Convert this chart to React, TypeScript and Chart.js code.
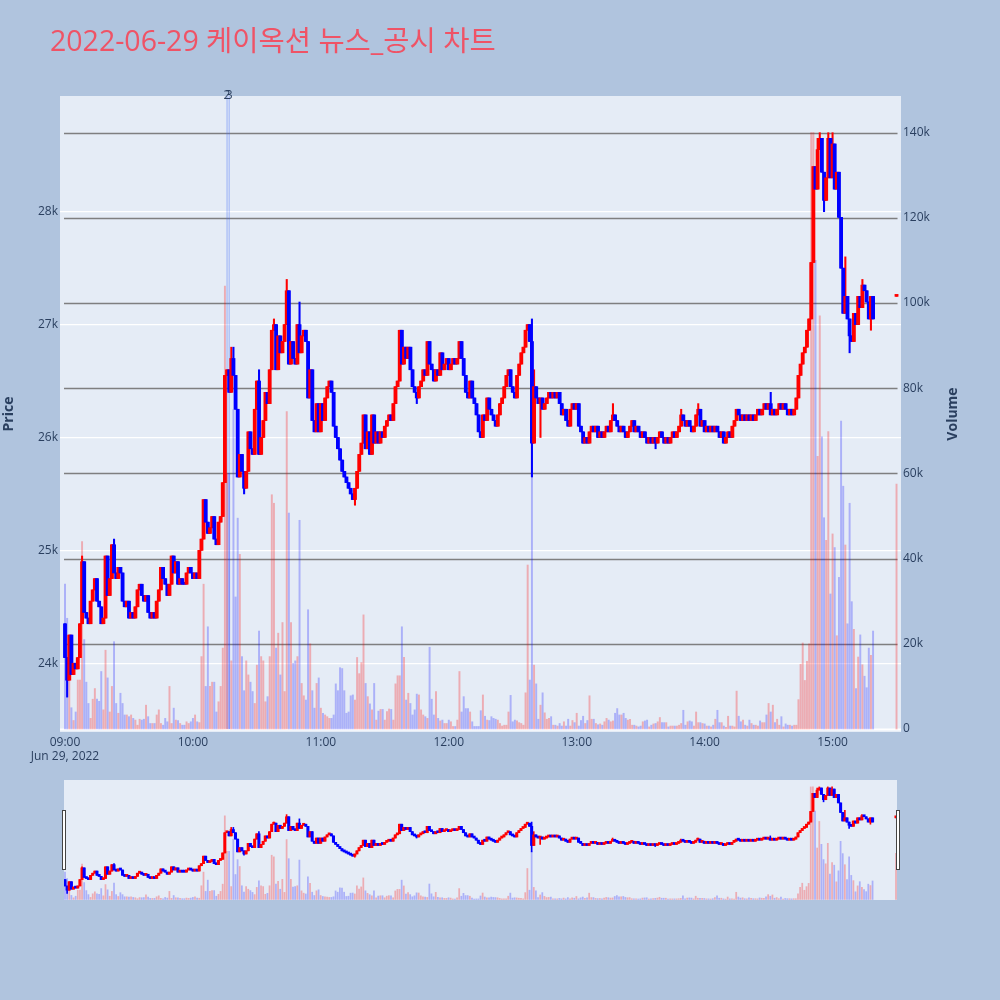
import React, { useEffect, useRef } from 'react';
import Chart from 'chart.js/auto';

// ---------------- data ----------------
const TITLE = '2022-06-29 케이옥션 뉴스_공시 차트';
const DATE_LABEL = 'Jun 29, 2022';
const hourTickMinutes = [0, 60, 120, 180, 240, 300, 360];
const hourTickLabels = ['09:00', '10:00', '11:00', '12:00', '13:00', '14:00', '15:00'];
const priceTicks = [24000, 25000, 26000, 27000, 28000];
const volumeTicks = [0, 20000, 40000, 60000, 80000, 100000, 120000, 140000];

// one-minute candles from 09:00 (minute 0) to 15:19 (minute 379)
const firstOpen = 24350;
const closes = [
  24050, 23850, 24250, 23900, 24000, 23950, 24050, 24350, 24900, 24450,
  24400, 24350, 24550, 24650, 24750, 24550, 24500, 24350, 24400, 24950,
  24600, 24750, 25050, 24800, 24750, 24850, 24800, 24550, 24500, 24550,
  24400, 24450, 24400, 24500, 24650, 24700, 24600, 24550, 24600, 24450,
  24400, 24450, 24400, 24550, 24650, 24850, 24750, 24700, 24600, 24700,
  24950, 24800, 24900, 24700, 24750, 24700, 24700, 24800, 24850, 24800,
  24750, 24800, 24750, 25000, 25100, 25450, 25250, 25150, 25200, 25300,
  25100, 25050, 25250, 25300, 25600, 26550, 26600, 26400, 26700, 26550,
  26250, 25650, 25850, 25700, 25550, 25700, 26050, 25900, 25850, 26250,
  26500, 25850, 26000, 26150, 26400, 26300, 26600, 26950, 27000, 26600,
  26900, 26750, 26850, 27000, 27300, 26650, 26850, 26700, 26650, 27000,
  26750, 26900, 26950, 26850, 26350, 26600, 26150, 26050, 26300, 26050,
  26300, 26150, 26350, 26450, 26500, 26400, 26100, 26000, 25900, 25800,
  25700, 25650, 25600, 25550, 25500, 25450, 25550, 25700, 25850, 25950,
  26200, 25900, 26050, 25850, 26200, 25950, 26050, 25950, 26050, 26000,
  26100, 26150, 26200, 26150, 26300, 26450, 26500, 26950, 26650, 26800,
  26700, 26800, 26600, 26450, 26400, 26350, 26450, 26500, 26600, 26550,
  26850, 26650, 26600, 26500, 26600, 26550, 26750, 26600, 26650, 26700,
  26600, 26650, 26700, 26650, 26700, 26850, 26700, 26550, 26400, 26350,
  26500, 26350, 26300, 26200, 26050, 26000, 26200, 26150, 26350, 26250,
  26200, 26150, 26100, 26200, 26300, 26350, 26450, 26550, 26600, 26450,
  26400, 26350, 26550, 26650, 26750, 26800, 26950, 27000, 26850, 25950,
  26450, 26350, 26300, 26350, 26250, 26300, 26350, 26400, 26350, 26400,
  26350, 26400, 26300, 26200, 26250, 26150, 26100, 26250, 26300, 26250,
  26300, 26100, 26050, 25950, 26000, 25950, 26050, 26100, 26050, 26100,
  26000, 26050, 26000, 26050, 26100, 26050, 26150, 26200, 26150, 26100,
  26050, 26100, 26050, 26000, 26050, 26100, 26150, 26050, 26100, 26050,
  26000, 26050, 26000, 25950, 26000, 25950, 26000, 25950, 26000, 26050,
  26000, 25950, 26000, 25950, 26000, 26050, 26000, 26050, 26100, 26200,
  26150, 26100, 26150, 26100, 26050, 26100, 26200, 26250, 26100, 26150,
  26050, 26100, 26050, 26100, 26050, 26100, 26050, 26000, 26050, 25950,
  26000, 26050, 26000, 26100, 26150, 26250, 26200, 26150, 26200, 26150,
  26200, 26150, 26200, 26150, 26200, 26250, 26200, 26250, 26300, 26250,
  26300, 26200, 26250, 26200, 26250, 26300, 26250, 26300, 26250, 26200,
  26250, 26200, 26250, 26350, 26550, 26650, 26750, 26800, 26950, 27050,
  27550, 28400, 28200, 28550, 28650, 28350, 28100, 28300, 28650, 28300,
  28600, 28200, 28350, 27950, 27500, 27100, 27250, 27050, 26900, 26850,
  27100, 27000, 27250, 27150, 27350, 27300, 27200, 27050, 27250, 27050,
];

// traded volume per minute, in thousands of shares
const volumesK = [
  34, 26, 22, 5, 2, 4, 11.5, 11.5, 44, 21,
  11, 6, 2.5, 7, 9.5, 7, 6.5, 13.5, 4.5, 18.5,
  12, 4, 10, 20.5, 6, 3.7, 8.4, 6, 3.3, 3.3,
  2.9, 3.3, 2.5, 2.1, 0.9, 2.3, 2.1, 2.3, 5.6, 2.9,
  1.3, 1.3, 1.3, 3.3, 4.5, 1.3, 0.9, 2.5, 1.7, 10,
  1.3, 4.9, 2.1, 2, 1.3, 0.9, 0.9, 1.7, 1.3, 1.7,
  2.5, 3.3, 1.7, 1.5, 17, 34, 10, 24, 10, 11,
  11, 4, 6.4, 10, 19, 104, 60, 60, 16, 75,
  31, 49.5, 41, 17, 9, 16, 12.7, 11, 8.8, 6,
  15, 23, 17, 16, 6.4, 7.6, 17, 55, 53, 19,
  22.5, 12.7, 25, 8.8, 74.5, 50.7, 25, 15.4, 16, 17,
  49, 10.7, 7.8, 6.8, 28, 20, 9, 4.9, 10.7, 12,
  4.9, 3.7, 3.3, 2.9, 2.5, 2.5, 3.3, 10.6, 9, 14.4,
  14.2, 9, 3.7, 4, 7.8, 8, 6.8, 16.8, 13, 15.6,
  26.8, 10.7, 7.6, 5.9, 4.5, 10.7, 2.1, 4.2, 4.6, 4.6,
  2.1, 4.1, 4.7, 4.6, 2.1, 10.6, 12.5, 12.5, 24, 16.8,
  6.8, 8.4, 6, 3.3, 4.5, 8.2, 8, 4.5, 3.3, 2.9,
  2.5, 19.2, 7, 3.3, 8.8, 2.5, 1.9, 2.1, 1.3, 1.3,
  2.1, 1.7, 0.6, 0.6, 2.1, 13.5, 4, 7.6, 4.8, 4.8,
  4, 1.7, 0.6, 0.6, 0.6, 4.3, 8, 3, 2.1, 2,
  2.9, 2.5, 2.3, 2.1, 1.3, 0.7, 0.9, 0.9, 4, 7.9,
  1.7, 2.1, 1.9, 1.5, 1.3, 0.9, 8.5, 38.5, 11.5, 60,
  15, 10.6, 2.3, 5.6, 8.5, 3.8, 2.3, 2.5, 2.9, 0.9,
  0.9, 0.7, 1.3, 0.7, 1.7, 0.7, 2.3, 0.7, 2, 1.5,
  3.7, 0.7, 2, 3, 1.3, 2, 7.8, 2.3, 2.3, 1.3,
  1, 1.2, 0.9, 1.7, 2.5, 2.1, 1.7, 1.9, 3.7, 4.8,
  3.3, 3.3, 3.7, 2.5, 2.1, 2.3, 0.9, 0.9, 0.7, 0.5,
  0.7, 1.7, 1.9, 2.1, 0.5, 0.9, 1.2, 1.3, 1.7, 2.7,
  1.5, 1.5, 1.5, 0.5, 0.7, 0.7, 0.7, 0.7, 0.9, 1.3,
  4.4, 0.9, 1.7, 1.9, 1.7, 0.7, 4, 1.5, 1.5, 1.3,
  1.2, 0.7, 0.7, 0.5, 0.9, 2.3, 4.4, 1.5, 1.5, 0.7,
  0.4, 3, 0.7, 0.7, 0.5, 8.9, 3, 1.7, 2.1, 0.9,
  0.7, 2.1, 1.3, 0.9, 0.9, 0.7, 1.9, 1.5, 1.5, 3.3,
  6, 4, 5.6, 1.5, 2.3, 0.9, 2.9, 0.5, 1.2, 0.9,
  0.9, 0.7, 0.9, 0.9, 6.9, 15.2, 20.2, 11.4, 15.9, 20,
  140, 140, 110, 64, 97, 68.6, 49.6, 44.3, 69.8, 31.7,
  45.8, 42.6, 21.9, 35.6, 72.3, 57, 43.2, 24.7, 53, 29.9,
  23.4, 9.5, 16.9, 22.1, 15.1, 12.4, 9.7, 19, 17.3, 23,
];

// [minute, high, low] for candles whose wicks reach beyond their bodies
const wickExtremes: [number, number | null, number | null][] = [
  [1, null, 23700], [8, 24950, null], [23, 25100, null], [78, 26800, null],
  [79, 26800, null], [84, null, 25500], [91, 26600, null], [98, 27050, null],
  [104, 27400, null], [110, 27200, null], [136, null, 25400], [165, null, 26300],
  [219, 27050, 25650], [220, 26600, null], [223, null, 26000], [257, 26300, null],
  [277, null, 25900], [289, 26250, null], [297, 26300, null], [331, 26400, null],
  [353, 28650, null], [354, 28700, null], [356, null, 28000], [358, 28700, null],
  [360, 28700, null], [366, 27600, null], [368, null, 26750], [374, 27400, null],
  [378, null, 26950],
];

// 15:30 closing auction
const closingAuction = { minute: 390, open: 27250, high: 27250, low: 27250, close: 27250, volumeK: 57.5 };

// news / disclosure markers
const newsMinutes = [76, 77];
const newsLabels = ['2', '3'];

// ---------------- styling ----------------
const UP = '#ff0000';
const DOWN = '#0000ff';
const UP_VOL = 'rgba(255,0,0,0.27)';
const DOWN_VOL = 'rgba(0,0,255,0.25)';
const PLOT_BG = '#E5ECF6';
const PAPER_BG = '#B0C4DE';
const TEXT = '#2a3f5f';
const FONT = '"Open Sans", "Noto Sans CJK KR", sans-serif';

type Candle = { m: number; o: number; h: number; l: number; c: number; v: number; up: boolean };

function buildCandles(): Candle[] {
  const list: Candle[] = closes.map((c, i) => {
    const o = i === 0 ? firstOpen : closes[i - 1];
    return { m: i, o, h: Math.max(o, c), l: Math.min(o, c), c, v: volumesK[i] * 1000, up: false };
  });
  for (const [m, h, l] of wickExtremes) {
    if (h != null) list[m].h = Math.max(list[m].h, h);
    if (l != null) list[m].l = Math.min(list[m].l, l);
  }
  const a = closingAuction;
  list.push({ m: a.minute, o: a.open, h: a.high, l: a.low, c: a.close, v: a.volumeK * 1000, up: false });
  list.forEach((k, i) => {
    if (k.c > k.o) k.up = true;
    else if (k.c < k.o) k.up = false;
    else k.up = i > 0 ? k.c > list[i - 1].c : false;
  });
  return list;
}

function makeDatasets(cs: Candle[], bodyW: number, wickW: number, volW: number): any[] {
  return [
    {
      type: 'bar', data: cs.map(k => ({ x: k.m, y: [k.o, k.c] })),
      backgroundColor: cs.map(k => (k.up ? UP : DOWN)), borderWidth: 0,
      barThickness: bodyW, grouped: false, yAxisID: 'y', order: 1, minBarLength: 2,
    },
    {
      type: 'bar', data: cs.map(k => ({ x: k.m, y: [k.l, k.h] })),
      backgroundColor: cs.map(k => (k.up ? UP : DOWN)), borderWidth: 0,
      barThickness: wickW, grouped: false, yAxisID: 'y', order: 2,
    },
    {
      type: 'bar', data: cs.map(k => ({ x: k.m, y: k.v })),
      backgroundColor: cs.map(k => (k.up ? UP_VOL : DOWN_VOL)), borderWidth: 0,
      barThickness: volW, grouped: false, yAxisID: 'y2', order: 3,
    },
  ];
}

const PRICE_MIN = 23391;
const PRICE_MAX = 29025;
const VOL_MIN = -700;
const VOL_MAX = 148600;
const SLIDER_X_MIN = -0.47;
const SLIDER_X_MAX = 390.47;

export default function App() {
  const mainRef = useRef<HTMLCanvasElement>(null);
  const sliderRef = useRef<HTMLCanvasElement>(null);

  useEffect(() => {
    document.body.style.margin = '0';
    document.body.style.background = PAPER_BG;
    const cs = buildCandles();

    const decor = {
      id: 'decor',
      beforeDraw(chart: any) {
        const { ctx, chartArea: a } = chart;
        ctx.save();
        ctx.fillStyle = PLOT_BG;
        ctx.fillRect(a.left, a.top, a.right - a.left, a.bottom - a.top);
        ctx.restore();
      },
      beforeDatasetsDraw(chart: any) {
        const { ctx, chartArea: a, scales } = chart;
        const x0 = scales.x.getPixelForValue(SLIDER_X_MIN);
        const x1 = scales.x.getPixelForValue(SLIDER_X_MAX);
        ctx.save();
        for (const v of volumeTicks) {
          const y = Math.round(scales.y2.getPixelForValue(v)) + 0.5;
          ctx.beginPath();
          ctx.strokeStyle = v === 0 ? '#ffffff' : 'rgba(115,115,115,0.9)';
          ctx.lineWidth = v === 0 ? 2 : 1.4;
          ctx.moveTo(v === 0 ? a.left : x0, y);
          ctx.lineTo(v === 0 ? a.right : x1, y);
          ctx.stroke();
        }
        for (const m of newsMinutes) {
          const x = scales.x.getPixelForValue(m);
          ctx.beginPath();
          ctx.strokeStyle = 'rgba(70,110,250,0.4)';
          ctx.lineWidth = 1.2;
          ctx.moveTo(x, a.top);
          ctx.lineTo(x, scales.y2.getPixelForValue(0));
          ctx.stroke();
        }
        ctx.restore();
      },
      afterDraw(chart: any) {
        const { ctx, chartArea: a, scales } = chart;
        ctx.save();
        // title
        ctx.fillStyle = 'rgb(239,83,102)';
        ctx.font = `28.5px ${FONT}`;
        ctx.textBaseline = 'alphabetic';
        ctx.textAlign = 'left';
        ctx.fillText(TITLE, 50, 50.5);
        // news labels
        ctx.fillStyle = TEXT;
        ctx.font = `12px ${FONT}`;
        ctx.textAlign = 'center';
        ctx.textBaseline = 'middle';
        newsMinutes.forEach((m, i) => {
          ctx.fillText(newsLabels[i], scales.x.getPixelForValue(m), a.top);
        });
        // axis titles
        ctx.font = `bold 14px ${FONT}`;
        ctx.translate(9.5, (a.top + a.bottom) / 2);
        ctx.rotate(-Math.PI / 2);
        ctx.fillText('Price', 0, 0);
        ctx.restore();
        ctx.save();
        ctx.fillStyle = TEXT;
        ctx.font = `bold 14px ${FONT}`;
        ctx.textAlign = 'center';
        ctx.textBaseline = 'middle';
        ctx.translate(953, (a.top + a.bottom) / 2);
        ctx.rotate(-Math.PI / 2);
        ctx.fillText('Volume', 0, 0);
        ctx.restore();
      },
    };

    const tickFont = { family: FONT, size: 12 };

    const main = new Chart(mainRef.current as HTMLCanvasElement, {
      type: 'bar',
      data: { datasets: makeDatasets(cs, 3.2, 1.4, 1.3) },
      options: {
        animation: false,
        responsive: false,
        maintainAspectRatio: false,
        layout: { padding: { top: 96, bottom: 228, left: 0, right: 0 } },
        plugins: { legend: { display: false }, tooltip: { enabled: false }, title: { display: false } },
        scales: {
          x: {
            type: 'linear', min: -2.35, max: 392.1, offset: false,
            grid: { display: false, drawTicks: false }, border: { display: false },
            afterFit: (s: any) => { s.height = 40; },
            afterBuildTicks: (s: any) => { s.ticks = hourTickMinutes.map(v => ({ value: v })); },
            ticks: {
              color: TEXT, font: tickFont, padding: 3, maxRotation: 0, autoSkip: false,
              callback: (_v: any, i: number) => (i === 0 ? [hourTickLabels[0], DATE_LABEL] : hourTickLabels[i]),
            },
          },
          y: {
            type: 'linear', position: 'left', min: PRICE_MIN, max: PRICE_MAX,
            grid: { color: '#ffffff', lineWidth: 1.2, drawTicks: false }, border: { display: false },
            afterFit: (s: any) => { s.width = 60; },
            afterBuildTicks: (s: any) => { s.ticks = priceTicks.map(v => ({ value: v })); },
            ticks: { color: TEXT, font: tickFont, padding: 2, callback: (v: any) => `${Number(v) / 1000}k` },
          },
          y2: {
            type: 'linear', position: 'right', min: VOL_MIN, max: VOL_MAX,
            grid: { display: false, drawTicks: false }, border: { display: false },
            afterFit: (s: any) => { s.width = 99; },
            afterBuildTicks: (s: any) => { s.ticks = volumeTicks.map(v => ({ value: v })); },
            ticks: { color: TEXT, font: tickFont, padding: 2, callback: (v: any) => (Number(v) === 0 ? '0' : `${Number(v) / 1000}k`) },
          },
        },
      } as any,
      plugins: [decor],
    } as any);

    const slider = new Chart(sliderRef.current as HTMLCanvasElement, {
      type: 'bar',
      data: { datasets: makeDatasets(cs, 2.4, 1, 1.1) },
      options: {
        animation: false,
        responsive: false,
        maintainAspectRatio: false,
        layout: { padding: 0 },
        plugins: { legend: { display: false }, tooltip: { enabled: false } },
        scales: {
          x: { type: 'linear', display: false, min: SLIDER_X_MIN, max: SLIDER_X_MAX, offset: false },
          y: { type: 'linear', display: false, min: PRICE_MIN, max: PRICE_MAX },
          y2: { type: 'linear', display: false, min: VOL_MIN, max: VOL_MAX },
        },
      } as any,
    } as any);

    return () => {
      main.destroy();
      slider.destroy();
    };
  }, []);

  const handle = (left: number): React.CSSProperties => ({
    position: 'absolute', left, top: 810, width: 4, height: 60, background: '#ffffff',
    border: '1px solid #444444', boxSizing: 'border-box',
  });

  return (
    <div style={{ position: 'relative', width: 1000, height: 1000, background: PAPER_BG, overflow: 'hidden' }}>
      <canvas ref={mainRef} width={1000} height={1000} style={{ position: 'absolute', left: 0, top: 0, width: 1000, height: 1000 }} />
      <div style={{ position: 'absolute', left: 64, top: 780, width: 833, height: 120, background: PLOT_BG }} />
      <canvas ref={sliderRef} width={833} height={120} style={{ position: 'absolute', left: 64, top: 780, width: 833, height: 120 }} />
      <div style={handle(61.5)} />
      <div style={handle(895.5)} />
    </div>
  );
}
